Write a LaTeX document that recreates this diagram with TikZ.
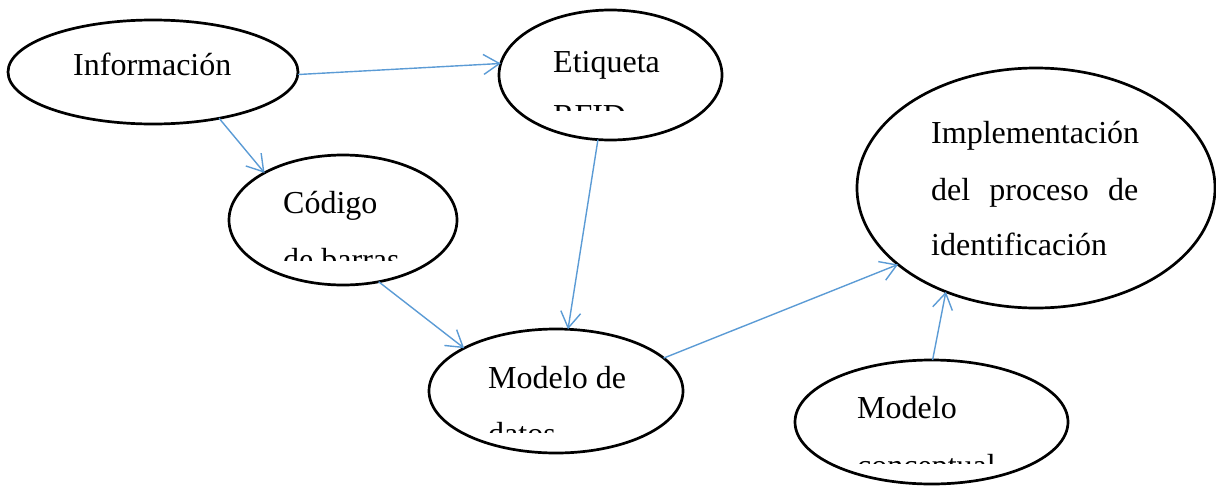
\documentclass[tikz,border=0pt]{standalone}
\usepackage{fontspec}
\setmainfont{Liberation Serif}
\usetikzlibrary{shapes.geometric,arrows.meta}
\definecolor{arrowblue}{HTML}{5B9BD5}
\tikzset{
  ell/.style={draw=black, line width=2.7pt, ellipse, inner sep=0pt, outer sep=0pt},
  txt/.style={anchor=base west, inner sep=0pt, font=\fontsize{32}{56}\selectfont},
  conn/.style={draw=arrowblue, line width=1.4pt, -{Straight Barb[length=16pt,width=20pt,line width=1.4pt]}}
}
\begin{document}
\begin{tikzpicture}[x=1pt,y=-1pt]
\useasboundingbox (0,0) rectangle (1216,488);
% ellipses
\node[ell, minimum width=290pt, minimum height=104pt] (info) at (153,72) {};
\node[ell, minimum width=223pt, minimum height=130pt] (etiq) at (610.5,75) {};
\node[ell, minimum width=228pt, minimum height=130pt] (cod) at (343,220) {};
\node[ell, minimum width=254pt, minimum height=124pt] (mod) at (556,391) {};
\node[ell, minimum width=358pt, minimum height=240pt] (impl) at (1036,188) {};
\node[ell, minimum width=273pt, minimum height=124pt] (conc) at (931.5,422) {};
% texts
\node[txt] (tinfo) at (73,75) {Información};
\begin{scope}
  \clip (540,30) rectangle (700,110);
  \node[txt] (tetiq1) at (553,72) {Etiqueta};
  \node[txt] (tetiq2) at (553,126) {RFID};
\end{scope}
\begin{scope}
  \clip (270,170) rectangle (440,260);
  \node[txt] (tcod1) at (283,213) {Código};
  \node[txt] (tcod2) at (283,270) {de barras};
\end{scope}
\begin{scope}
  \clip (475,345) rectangle (670,432);
  \node[txt] (tmod1) at (488,388) {Modelo de};
  \node[txt] (tmod2) at (488,444) {datos};
\end{scope}
\begin{scope}
  \clip (845,375) rectangle (1040,463);
  \node[txt] (tconc1) at (857,418) {Modelo};
  \node[txt] (tconc2) at (857,476) {conceptual};
\end{scope}
\node[txt] (timpl1) at (931,143) {Implementación};
\node[txt] (timpl2) at (931,200) {\makebox[207pt][s]{del\hfill proceso\hfill de}};
\node[txt] (timpl3) at (931,255) {identificación};
% connectors
\draw[conn] (info.-1) -- (etiq.174);
\draw[conn] (info.-35) -- (cod.149);
\draw[conn] (etiq.-101) -- (mod.79);
\draw[conn] (cod.-60) -- (mod.155);
\draw[conn] (mod.17) -- (impl.209);
\draw[conn] (conc.89.6) -- (impl.229);
\end{tikzpicture}
\end{document}
